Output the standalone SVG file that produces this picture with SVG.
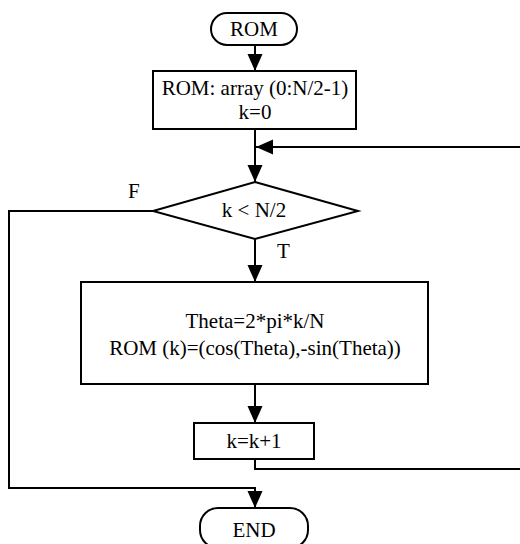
<svg xmlns="http://www.w3.org/2000/svg" width="520" height="544" viewBox="0 0 520 544">
<style>
.shape{fill:#fff;stroke:#000;stroke-width:2}
.conn{fill:none;stroke:#000;stroke-width:2}
.t{font-family:'Liberation Serif','Times New Roman',Tinos,'DejaVu Serif',serif;font-size:21px;fill:#000}
.c{text-anchor:middle}
</style>
<defs>
<marker id="ah" markerUnits="userSpaceOnUse" markerWidth="18" markerHeight="16" refX="17" refY="7.5" orient="auto" viewBox="0 0 18 15">
<path d="M0,0 L17,7.5 L0,15 z" fill="#000"/>
</marker>
</defs>
<rect width="520" height="544" fill="#fff"/>
<g id="connectors">
<path class="conn" d="M255,45 V71" marker-end="url(#ah)"/>
<path class="conn" d="M255,129 V182" marker-end="url(#ah)"/>
<path class="conn" d="M522,147 H256" marker-end="url(#ah)"/>
<path class="conn" d="M255,239 V282" marker-end="url(#ah)"/>
<path class="conn" d="M255,384 V423" marker-end="url(#ah)"/>
<path class="conn" d="M255,459 V469 H522"/>
<path class="conn" d="M153,211 H9 V488 H255 V508" marker-end="url(#ah)"/>
<text class="t" x="128" y="198">F</text>
<text class="t" x="277" y="258">T</text>
</g>
<g id="start">
<rect class="shape" x="211" y="13" width="86" height="32" rx="16"/>
<text class="t c" x="254" y="36">ROM</text>
</g>
<g id="init">
<rect class="shape" x="153" y="71" width="203" height="58"/>
<text class="t c" x="255" y="95">ROM: array (0:N/2-1)</text>
<text class="t c" x="255" y="119">k=0</text>
</g>
<g id="cond">
<polygon class="shape" points="255,182 358,211 255,239 153,211"/>
<text class="t c" x="254" y="217">k &lt; N/2</text>
</g>
<g id="calc">
<rect class="shape" x="81" y="282" width="347" height="102"/>
<text class="t c" x="255" y="328">Theta=2*pi*k/N</text>
<text class="t c" x="255" y="355">ROM (k)=(cos(Theta),-sin(Theta))</text>
</g>
<g id="inc">
<rect class="shape" x="194" y="423" width="120" height="36"/>
<text class="t c" x="254" y="448">k=k+1</text>
</g>
<g id="end">
<rect class="shape" x="200" y="508" width="108" height="40" rx="18"/>
<text class="t c" x="254" y="537">END</text>
</g>
</svg>
